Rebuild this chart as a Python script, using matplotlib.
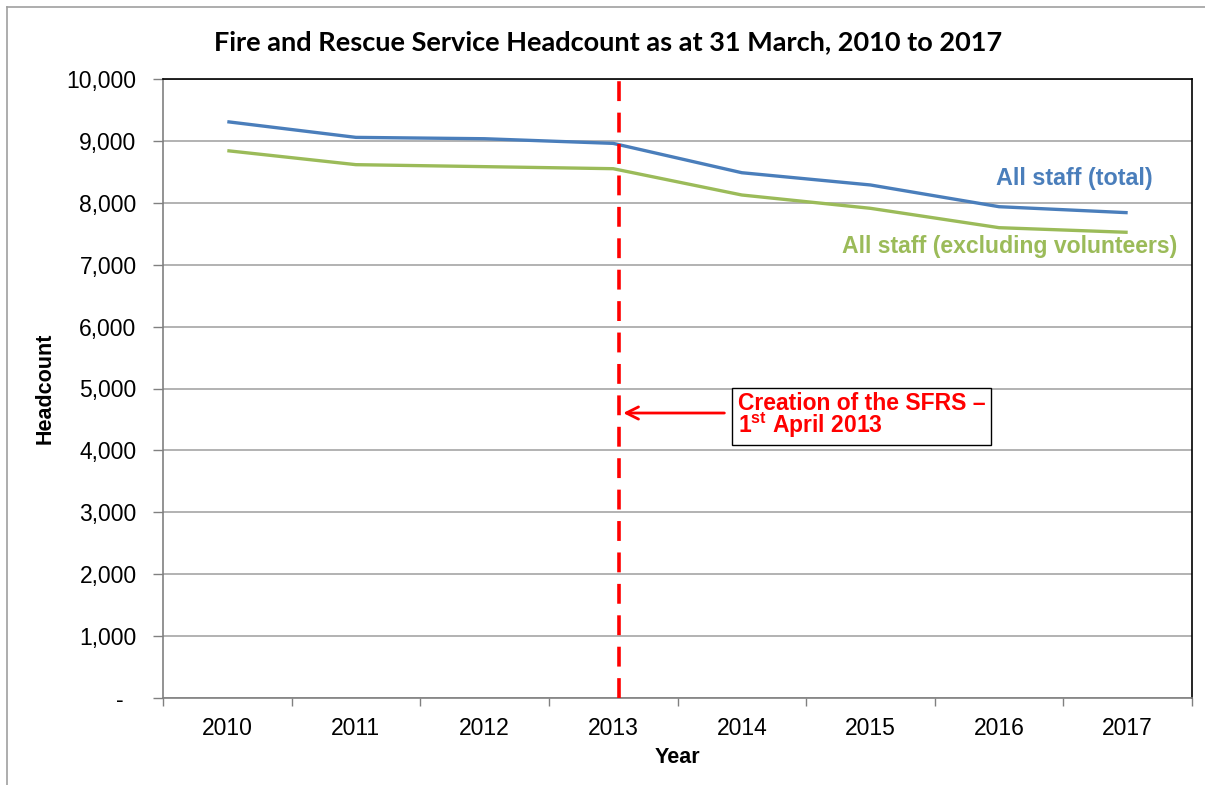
import matplotlib
matplotlib.use('Agg')

import matplotlib.pyplot as plt
from matplotlib.ticker import FixedLocator, FuncFormatter
from matplotlib.lines import Line2D

plt.rcParams['font.family'] = ['Liberation Sans', 'DejaVu Sans']
plt.rcParams['mathtext.fontset'] = 'custom'
plt.rcParams['mathtext.rm'] = 'Liberation Sans:bold'
plt.rcParams['mathtext.it'] = 'Liberation Sans:bold'
plt.rcParams['mathtext.bf'] = 'Liberation Sans:bold'

years = ['2010', '2011', '2012', '2013', '2014', '2015', '2016', '2017']
all_staff = [9310, 9057, 9035, 8960, 8486, 8288, 7937, 7840]
excl_volunteers = [8842, 8616, 8584, 8551, 8126, 7911, 7598, 7523]

blue = '#4A7EBB'
green = '#9BBB59'
grid_col = '#A6A6A6'

fig = plt.figure(figsize=(12.05, 7.85), dpi=100)
ax = fig.add_axes([163 / 1205, 87 / 785, 1029 / 1205, 619 / 785])

x = list(range(len(years)))
ax.plot(x, all_staff, color=blue, lw=2.4, solid_capstyle='butt', zorder=3)
ax.plot(x, excl_volunteers, color=green, lw=2.4, solid_capstyle='butt', zorder=3)

ax.set_xlim(-0.5, len(years) - 0.5)
ax.set_ylim(0, 10000)

# category axis: ticks between categories, labels at centres
ax.xaxis.set_major_locator(FixedLocator([i - 0.5 for i in range(len(years) + 1)]))
ax.xaxis.set_major_formatter(FuncFormatter(lambda v, p: ''))
ax.set_xticks(x, minor=True)
ax.set_xticklabels(years, minor=True)
ax.tick_params(axis='x', which='major', length=6, color='#808080', width=1)
ax.tick_params(axis='x', which='minor', length=0, pad=14, labelsize=16.5)

ax.set_yticks(range(0, 10001, 1000))
ax.yaxis.set_major_formatter(FuncFormatter(lambda v, p: '-  ' if v == 0 else '{:,.0f}'.format(v)))
ax.tick_params(axis='y', length=7, color='#808080', width=1, pad=12, labelsize=16.5)

ax.grid(axis='y', color=grid_col, lw=1.2, zorder=0)
ax.set_axisbelow(True)
for s in ['left', 'bottom']:
    ax.spines[s].set_color('#808080')
    ax.spines[s].set_linewidth(1.2)
for s in ['top', 'right']:
    ax.spines[s].set_color('black')
    ax.spines[s].set_linewidth(1.2)

ax.set_xlabel('Year', fontsize=15.5, fontweight='bold', labelpad=5)
ax.set_ylabel('Headcount', fontsize=15.5, fontweight='bold', labelpad=8)

# creation of SFRS marker
sfrs_x = 3.046
ax.axvline(sfrs_x, color='#FF0000', lw=2.6, dashes=(5.5, 3.2), zorder=4)
ax.annotate('', xy=(sfrs_x + 0.01, 4604), xytext=(3.886, 4604),
            arrowprops=dict(arrowstyle='->', color='#FF0000', lw=2, mutation_scale=22),
            zorder=5)
ax.text(3.886 + 0.085, 4560, 'Creation of the SFRS \u2013\n1$^{\\mathrm{st}}$ April 2013',
        color='#FF0000', fontsize=16.5, fontweight='bold', ha='left', va='center',
        linespacing=0.8, zorder=6,
        bbox=dict(boxstyle='square,pad=0.25', fc='white', ec='black', lw=1))

ax.text(7.19, 8400, 'All staff (total)', color=blue, fontsize=16.8, fontweight='bold',
        ha='right', va='center')
ax.text(7.385, 7290, 'All staff (excluding volunteers)', color=green, fontsize=16.6,
        fontweight='bold', ha='right', va='center')

fig.text(0.5046, 1 - 42 / 785, 'Fire and Rescue Service Headcount as at 31 March, 2010 to 2017',
         fontsize=19.5, fontweight='bold', family=['Lato', 'DejaVu Sans'], ha='center', va='center')

# chart frame (cropped at right and bottom)
fig.add_artist(Line2D([7 / 1205, 7 / 1205], [0, 1 - 7 / 785], transform=fig.transFigure,
                      color='#A0A0A0', lw=1.2))
fig.add_artist(Line2D([7 / 1205, 1], [1 - 7 / 785, 1 - 7 / 785], transform=fig.transFigure,
                      color='#A0A0A0', lw=1.2))

fig.savefig('out.png', dpi=100)
